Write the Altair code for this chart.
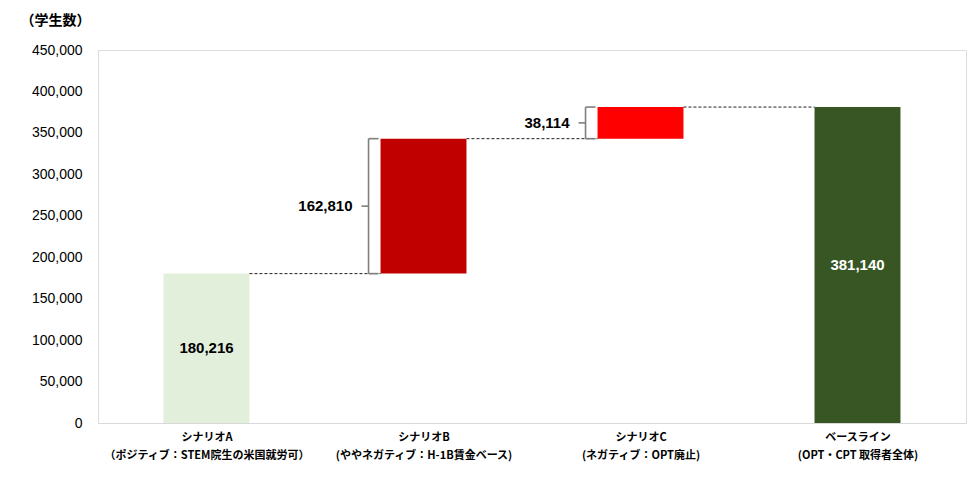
import json
import altair as alt
import pandas as pd

# ---- data ----
label_line1 = ["シナリオA", "シナリオB", "シナリオC", "ベースライン"]
label_line2 = ["（ポジティブ：STEM院生の米国就労可）", "(ややネガティブ：H-1B賃金ベース)",
               "(ネガティブ：OPT廃止)", "(OPT・CPT 取得者全体)"]
values = [180216, 162810, 38114, 381140]
kinds = ["start", "delta", "delta", "total"]
bar_colors = ["#E2EFDA", "#C00000", "#FF0000", "#375623"]
text_colors = ["#000000", "#000000", "#000000", "#FFFFFF"]
y_ticks = [0, 50000, 100000, 150000, 200000, 250000, 300000, 350000, 400000, 450000]

# ---- build waterfall table ----
rows = []
running = 0
for i, (v, k) in enumerate(zip(values, kinds)):
    if k == "total":
        base, top = 0, v
        running = v
    else:
        base, top = running, running + v
        running = top
    rows.append(dict(idx=i, base=base, top=top, mid=(base + top) / 2,
                     value=v, kind=k, color=bar_colors[i], tcolor=text_colors[i],
                     label=f"{v:,}"))
df = pd.DataFrame(rows)

conn = pd.DataFrame([dict(idx=i, y=df.loc[i, "top"]) for i in range(len(df) - 1)])

HW = 0.198  # half bar width in category units
label_arr = json.dumps([[a, b] for a, b in zip(label_line1, label_line2)], ensure_ascii=False)

xscale = alt.Scale(domain=[-0.5, 3.5], nice=False, zero=False)
xaxis = alt.Axis(values=[0, 1, 2, 3], labelExpr=f"{label_arr}[datum.value]", title=None,
                 grid=False, ticks=False, domainColor="#D9D9D9", domainWidth=1,
                 labelFont="Noto Sans CJK JP", labelFontSize=11, labelFontWeight="bold",
                 labelColor="#000000", labelLineHeight=18, labelPadding=8,
                 labelFlush=False, labelOverlap=False, labelLimit=400)
yscale = alt.Scale(domain=[0, 450000], nice=False)
yaxis = alt.Axis(values=y_ticks, labelExpr="format(datum.value, ',')", grid=False,
                 domain=False, ticks=False,
                 labelFont="Liberation Sans", labelFontSize=14, labelColor="#000000",
                 labelPadding=16, title="（学生数）", titleAngle=0, titleAlign="left",
                 titleBaseline="middle", titleX=-78, titleY=-30,
                 titleFont="Noto Sans CJK JP", titleFontSize=14, titleFontWeight="bold",
                 titleColor="#000000")


def X(field):
    return alt.X(f"{field}:Q", scale=xscale, axis=xaxis)


def Y(field):
    return alt.Y(f"{field}:Q", scale=yscale, axis=yaxis)


base_chart = alt.Chart(df).transform_calculate(
    xl=f"datum.idx - {HW}", xr=f"datum.idx + {HW}")

bars = base_chart.mark_bar().encode(
    x=X("xl"), x2="xr:Q", y=Y("base"), y2="top:Q",
    color=alt.Color("color:N", scale=None))

inner_text = base_chart.transform_filter("datum.kind != 'delta'").mark_text(
    font="Liberation Sans", fontSize=15, fontWeight="bold").encode(
    x=X("idx"), y=Y("mid"), text="label:N", color=alt.Color("tcolor:N", scale=None))

connectors = alt.Chart(conn).transform_calculate(
    x1=f"datum.idx + {HW}", x2=f"datum.idx + 1 - {HW}").mark_rule(
    color="#202020", strokeDash=[3, 2], strokeWidth=1).encode(
    x=X("x1"), x2="x2:Q", y=Y("y"))

deltas = base_chart.transform_filter("datum.kind == 'delta'")
BRACE = "#7F7F7F"

brace_v = deltas.mark_rule(color=BRACE, strokeWidth=1.6, xOffset=-12).encode(
    x=X("xl"), y=Y("base"), y2="top:Q")

brace_ends = deltas.transform_fold(["base", "top"], as_=["end", "yv"]).mark_rule(
    color=BRACE, strokeWidth=1.6, xOffset=-12, x2Offset=-2).encode(
    x=X("xl"), x2="xl:Q", y=Y("yv"))

brace_mid = deltas.mark_rule(color=BRACE, strokeWidth=1.6, xOffset=-19, x2Offset=-12).encode(
    x=X("xl"), x2="xl:Q", y=Y("mid"))

delta_text = deltas.mark_text(font="Liberation Sans", fontSize=15, fontWeight="bold",
                              align="right", dx=-28, color="#000000").encode(
    x=X("xl"), y=Y("mid"), text="label:N")

chart = alt.layer(bars, connectors, brace_v, brace_ends, brace_mid, delta_text, inner_text).properties(
    width=868, height=373,
    autosize=alt.AutoSizeParams(type="none"),
    padding={"left": 90, "top": 42, "right": 2, "bottom": 48},
).configure_view(stroke=None).configure(background="#FFFFFF")

chart.save("out.html", embed_options={"renderer": "svg", "actions": False})
